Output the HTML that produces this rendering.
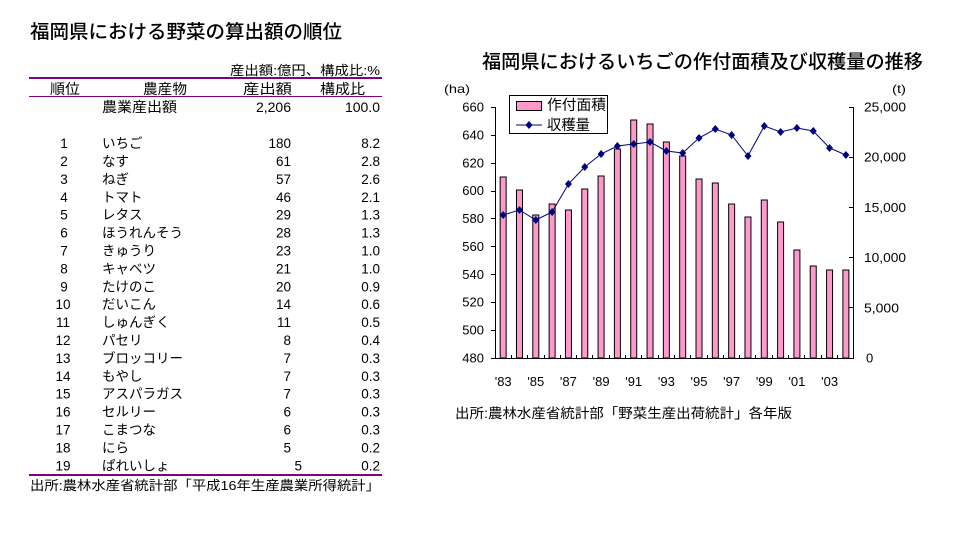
<!DOCTYPE html>
<html>
<head>
<meta charset="utf-8">
<style>
  html,body{margin:0;padding:0;background:#fff;}
  body{width:968px;height:534px;overflow:hidden;}
  svg{display:block;font-family:"Liberation Sans","Noto Sans CJK JP",sans-serif;}
  text{fill:#000;}
</style>
</head>
<body>
<svg width="968" height="534" viewBox="0 0 968 534" xmlns="http://www.w3.org/2000/svg">
  <rect x="0" y="0" width="968" height="534" fill="#fff"/>

  <!-- LEFT: title -->
  <text x="30" y="38" font-size="19" font-weight="500" textLength="312" lengthAdjust="spacingAndGlyphs">福岡県における野菜の算出額の順位</text>

  <!-- unit note -->
  <text x="230" y="75" font-size="13" textLength="150" lengthAdjust="spacingAndGlyphs">産出額:億円、構成比:%</text>

  <!-- lines -->
  <rect x="29" y="77" width="353" height="2" fill="#800080"/>
  <rect x="29" y="96" width="353" height="1" fill="#800080"/>
  <rect x="29" y="474" width="353" height="2" fill="#800080"/>

  <!-- header -->
  <g font-size="14">
    <text x="50" y="94" textLength="30" lengthAdjust="spacingAndGlyphs">順位</text>
    <text x="143" y="94" textLength="44" lengthAdjust="spacingAndGlyphs">農産物</text>
    <text x="243" y="94" textLength="49" lengthAdjust="spacingAndGlyphs">産出額</text>
    <text x="320" y="94" textLength="45" lengthAdjust="spacingAndGlyphs">構成比</text>
    <text x="102" y="112" textLength="75" lengthAdjust="spacingAndGlyphs">農業産出額</text>
    <text x="291" y="112" text-anchor="end">2,206</text>
    <text x="380" y="112" text-anchor="end">100.0</text>
  </g>

  <!-- rows -->
  <g font-size="13.5">
    <g text-anchor="middle">
      <text x="64" y="148.1">1</text>
      <text x="64" y="166.0">2</text>
      <text x="64" y="183.9">3</text>
      <text x="64" y="201.8">4</text>
      <text x="64" y="219.7">5</text>
      <text x="64" y="237.6">6</text>
      <text x="64" y="255.5">7</text>
      <text x="64" y="273.4">8</text>
      <text x="64" y="291.3">9</text>
      <text x="63" y="309.2">10</text>
      <text x="63" y="327.1">11</text>
      <text x="63" y="345.0">12</text>
      <text x="63" y="362.9">13</text>
      <text x="63" y="380.8">14</text>
      <text x="63" y="398.7">15</text>
      <text x="63" y="416.6">16</text>
      <text x="63" y="434.5">17</text>
      <text x="63" y="452.4">18</text>
      <text x="63" y="470.3">19</text>
    </g>
    <g>
      <text x="102" y="148.1">いちご</text>
      <text x="102" y="166.0">なす</text>
      <text x="102" y="183.9">ねぎ</text>
      <text x="102" y="201.8">トマト</text>
      <text x="102" y="219.7">レタス</text>
      <text x="102" y="237.6">ほうれんそう</text>
      <text x="102" y="255.5">きゅうり</text>
      <text x="102" y="273.4">キャベツ</text>
      <text x="102" y="291.3">たけのこ</text>
      <text x="102" y="309.2">だいこん</text>
      <text x="102" y="327.1">しゅんぎく</text>
      <text x="102" y="345.0">パセリ</text>
      <text x="102" y="362.9">ブロッコリー</text>
      <text x="102" y="380.8">もやし</text>
      <text x="102" y="398.7">アスパラガス</text>
      <text x="102" y="416.6">セルリー</text>
      <text x="102" y="434.5">こまつな</text>
      <text x="102" y="452.4">にら</text>
      <text x="102" y="470.3">ぱれいしょ</text>
    </g>
    <g text-anchor="end">
      <text x="291" y="148.1">180</text>
      <text x="291" y="166.0">61</text>
      <text x="291" y="183.9">57</text>
      <text x="291" y="201.8">46</text>
      <text x="291" y="219.7">29</text>
      <text x="291" y="237.6">28</text>
      <text x="291" y="255.5">23</text>
      <text x="291" y="273.4">21</text>
      <text x="291" y="291.3">20</text>
      <text x="291" y="309.2">14</text>
      <text x="291" y="327.1">11</text>
      <text x="291" y="345.0">8</text>
      <text x="291" y="362.9">7</text>
      <text x="291" y="380.8">7</text>
      <text x="291" y="398.7">7</text>
      <text x="291" y="416.6">6</text>
      <text x="291" y="434.5">6</text>
      <text x="291" y="452.4">5</text>
      <text x="302" y="470.3">5</text>
    </g>
    <g text-anchor="end">
      <text x="380" y="148.1">8.2</text>
      <text x="380" y="166.0">2.8</text>
      <text x="380" y="183.9">2.6</text>
      <text x="380" y="201.8">2.1</text>
      <text x="380" y="219.7">1.3</text>
      <text x="380" y="237.6">1.3</text>
      <text x="380" y="255.5">1.0</text>
      <text x="380" y="273.4">1.0</text>
      <text x="380" y="291.3">0.9</text>
      <text x="380" y="309.2">0.6</text>
      <text x="380" y="327.1">0.5</text>
      <text x="380" y="345.0">0.4</text>
      <text x="380" y="362.9">0.3</text>
      <text x="380" y="380.8">0.3</text>
      <text x="380" y="398.7">0.3</text>
      <text x="380" y="416.6">0.3</text>
      <text x="380" y="434.5">0.3</text>
      <text x="380" y="452.4">0.2</text>
      <text x="380" y="470.3">0.2</text>
    </g>
  </g>

  <text x="30" y="490" font-size="13" textLength="350" lengthAdjust="spacingAndGlyphs">出所:農林水産省統計部「平成16年生産農業所得統計」</text>

  <!-- RIGHT: chart title -->
  <text x="482" y="68" font-size="19" font-weight="500" textLength="441" lengthAdjust="spacingAndGlyphs">福岡県におけるいちごの作付面積及び収穫量の推移</text>

  <text x="444" y="93" font-size="12" textLength="26" lengthAdjust="spacingAndGlyphs">(ha)</text>
  <text x="892" y="93" font-size="12" textLength="14" lengthAdjust="spacingAndGlyphs">(t)</text>

  <!-- bars -->
  <g fill="#ff99cc" stroke="#000" stroke-width="1">
    <rect x="500.16" y="177" width="6" height="181"/>
    <rect x="516.48" y="190" width="6" height="168"/>
    <rect x="532.8" y="215" width="6" height="143"/>
    <rect x="549.12" y="204" width="6" height="154"/>
    <rect x="565.44" y="210" width="6" height="148"/>
    <rect x="581.76" y="189" width="6" height="169"/>
    <rect x="598.08" y="176" width="6" height="182"/>
    <rect x="614.4" y="149" width="6" height="209"/>
    <rect x="630.72" y="120" width="6" height="238"/>
    <rect x="647.04" y="124" width="6" height="234"/>
    <rect x="663.36" y="142" width="6" height="216"/>
    <rect x="679.68" y="156" width="6" height="202"/>
    <rect x="696.0" y="179" width="6" height="179"/>
    <rect x="712.32" y="183" width="6" height="175"/>
    <rect x="728.64" y="204" width="6" height="154"/>
    <rect x="744.96" y="217" width="6" height="141"/>
    <rect x="761.28" y="200" width="6" height="158"/>
    <rect x="777.6" y="222" width="6" height="136"/>
    <rect x="793.92" y="250" width="6" height="108"/>
    <rect x="810.24" y="266" width="6" height="92"/>
    <rect x="826.56" y="270" width="6" height="88"/>
    <rect x="842.88" y="270" width="6" height="88"/>
  </g>

  <!-- axes -->
  <g stroke="#000" stroke-width="1" fill="none" shape-rendering="crispEdges">
    <line x1="495.5" y1="107" x2="495.5" y2="358.5"/>
    <line x1="853.5" y1="107" x2="853.5" y2="358.5"/>
    <line x1="495" y1="358.5" x2="854" y2="358.5"/>
    <path d="M491 107.5H495 M491 135.5H495 M491 163.5H495 M491 191.5H495 M491 218.5H495 M491 246.5H495 M491 274.5H495 M491 302.5H495 M491 330.5H495 M491 358.5H495"/>
    <path d="M849 107.5H853 M849 157.5H853 M849 207.5H853 M849 257.5H853 M849 307.5H853 M849 358.5H853"/>
    <path d="M511.5 355V358 M527.5 355V358 M544.5 355V358 M560.5 355V358 M576.5 355V358 M592.5 355V358 M609.5 355V358 M625.5 355V358 M641.5 355V358 M658.5 355V358 M674.5 355V358 M690.5 355V358 M707.5 355V358 M723.5 355V358 M739.5 355V358 M755.5 355V358 M772.5 355V358 M788.5 355V358 M804.5 355V358 M821.5 355V358 M837.5 355V358"/>
  </g>

  <!-- line series -->
  <polyline fill="none" stroke="#000080" stroke-width="1"
    points="503.16,215 519.48,210 535.8,220 552.12,212 568.44,184 584.76,167 601.08,154 617.4,146 633.72,144 650.04,142 666.36,151 682.68,153 699.0,138 715.32,129 731.64,135 747.96,156 764.28,126 780.6,132 796.92,128 813.24,131 829.56,148 845.88,155"/>
  <g fill="#000080">
    <path d="M503.16 211l3.5 4-3.5 4-3.5-4z"/>
    <path d="M519.48 206l3.5 4-3.5 4-3.5-4z"/>
    <path d="M535.8 216l3.5 4-3.5 4-3.5-4z"/>
    <path d="M552.12 208l3.5 4-3.5 4-3.5-4z"/>
    <path d="M568.44 180l3.5 4-3.5 4-3.5-4z"/>
    <path d="M584.76 163l3.5 4-3.5 4-3.5-4z"/>
    <path d="M601.08 150l3.5 4-3.5 4-3.5-4z"/>
    <path d="M617.4 142l3.5 4-3.5 4-3.5-4z"/>
    <path d="M633.72 140l3.5 4-3.5 4-3.5-4z"/>
    <path d="M650.04 138l3.5 4-3.5 4-3.5-4z"/>
    <path d="M666.36 147l3.5 4-3.5 4-3.5-4z"/>
    <path d="M682.68 149l3.5 4-3.5 4-3.5-4z"/>
    <path d="M699.0 134l3.5 4-3.5 4-3.5-4z"/>
    <path d="M715.32 125l3.5 4-3.5 4-3.5-4z"/>
    <path d="M731.64 131l3.5 4-3.5 4-3.5-4z"/>
    <path d="M747.96 152l3.5 4-3.5 4-3.5-4z"/>
    <path d="M764.28 122l3.5 4-3.5 4-3.5-4z"/>
    <path d="M780.6 128l3.5 4-3.5 4-3.5-4z"/>
    <path d="M796.92 124l3.5 4-3.5 4-3.5-4z"/>
    <path d="M813.24 127l3.5 4-3.5 4-3.5-4z"/>
    <path d="M829.56 144l3.5 4-3.5 4-3.5-4z"/>
    <path d="M845.88 151l3.5 4-3.5 4-3.5-4z"/>
  </g>

  <!-- left axis labels -->
  <g font-size="13" text-anchor="end">
    <text x="484" y="111.5">660</text>
    <text x="484" y="139.4">640</text>
    <text x="484" y="167.3">620</text>
    <text x="484" y="195.2">600</text>
    <text x="484" y="223.1">580</text>
    <text x="484" y="250.9">560</text>
    <text x="484" y="278.8">540</text>
    <text x="484" y="306.7">520</text>
    <text x="484" y="334.6">500</text>
    <text x="484" y="362.5">480</text>
  </g>
  <!-- right axis labels -->
  <g font-size="13">
    <text x="864" y="111.5" textLength="42" lengthAdjust="spacingAndGlyphs">25,000</text>
    <text x="864" y="161.7" textLength="42" lengthAdjust="spacingAndGlyphs">20,000</text>
    <text x="864" y="211.9" textLength="42" lengthAdjust="spacingAndGlyphs">15,000</text>
    <text x="864" y="262.1" textLength="42" lengthAdjust="spacingAndGlyphs">10,000</text>
    <text x="864" y="312.3" textLength="35" lengthAdjust="spacingAndGlyphs">5,000</text>
    <text x="866" y="362.5">0</text>
  </g>
  <!-- x labels -->
  <g font-size="13" text-anchor="middle">
    <text x="503.2" y="386">'83</text>
    <text x="535.8" y="386">'85</text>
    <text x="568.4" y="386">'87</text>
    <text x="601.1" y="386">'89</text>
    <text x="633.7" y="386">'91</text>
    <text x="666.4" y="386">'93</text>
    <text x="699.0" y="386">'95</text>
    <text x="731.6" y="386">'97</text>
    <text x="764.3" y="386">'99</text>
    <text x="796.9" y="386">'01</text>
    <text x="829.6" y="386">'03</text>
  </g>

  <!-- legend -->
  <rect x="509.5" y="95.5" width="98" height="38" fill="#fff" stroke="#000" stroke-width="1"/>
  <rect x="516.5" y="101.5" width="25" height="9" fill="#ff99cc" stroke="#000" stroke-width="1"/>
  <text x="547" y="110" font-size="14.5" textLength="59" lengthAdjust="spacingAndGlyphs">作付面積</text>
  <line x1="516" y1="125" x2="542" y2="125" stroke="#000080" stroke-width="1"/>
  <path d="M529 121l3.5 4-3.5 4-3.5-4z" fill="#000080"/>
  <text x="547" y="130" font-size="14.5" textLength="43" lengthAdjust="spacingAndGlyphs">収穫量</text>

  <!-- source -->
  <text x="455" y="418" font-size="13.5" textLength="337" lengthAdjust="spacingAndGlyphs">出所:農林水産省統計部「野菜生産出荷統計」各年版</text>
</svg>
</body>
</html>
